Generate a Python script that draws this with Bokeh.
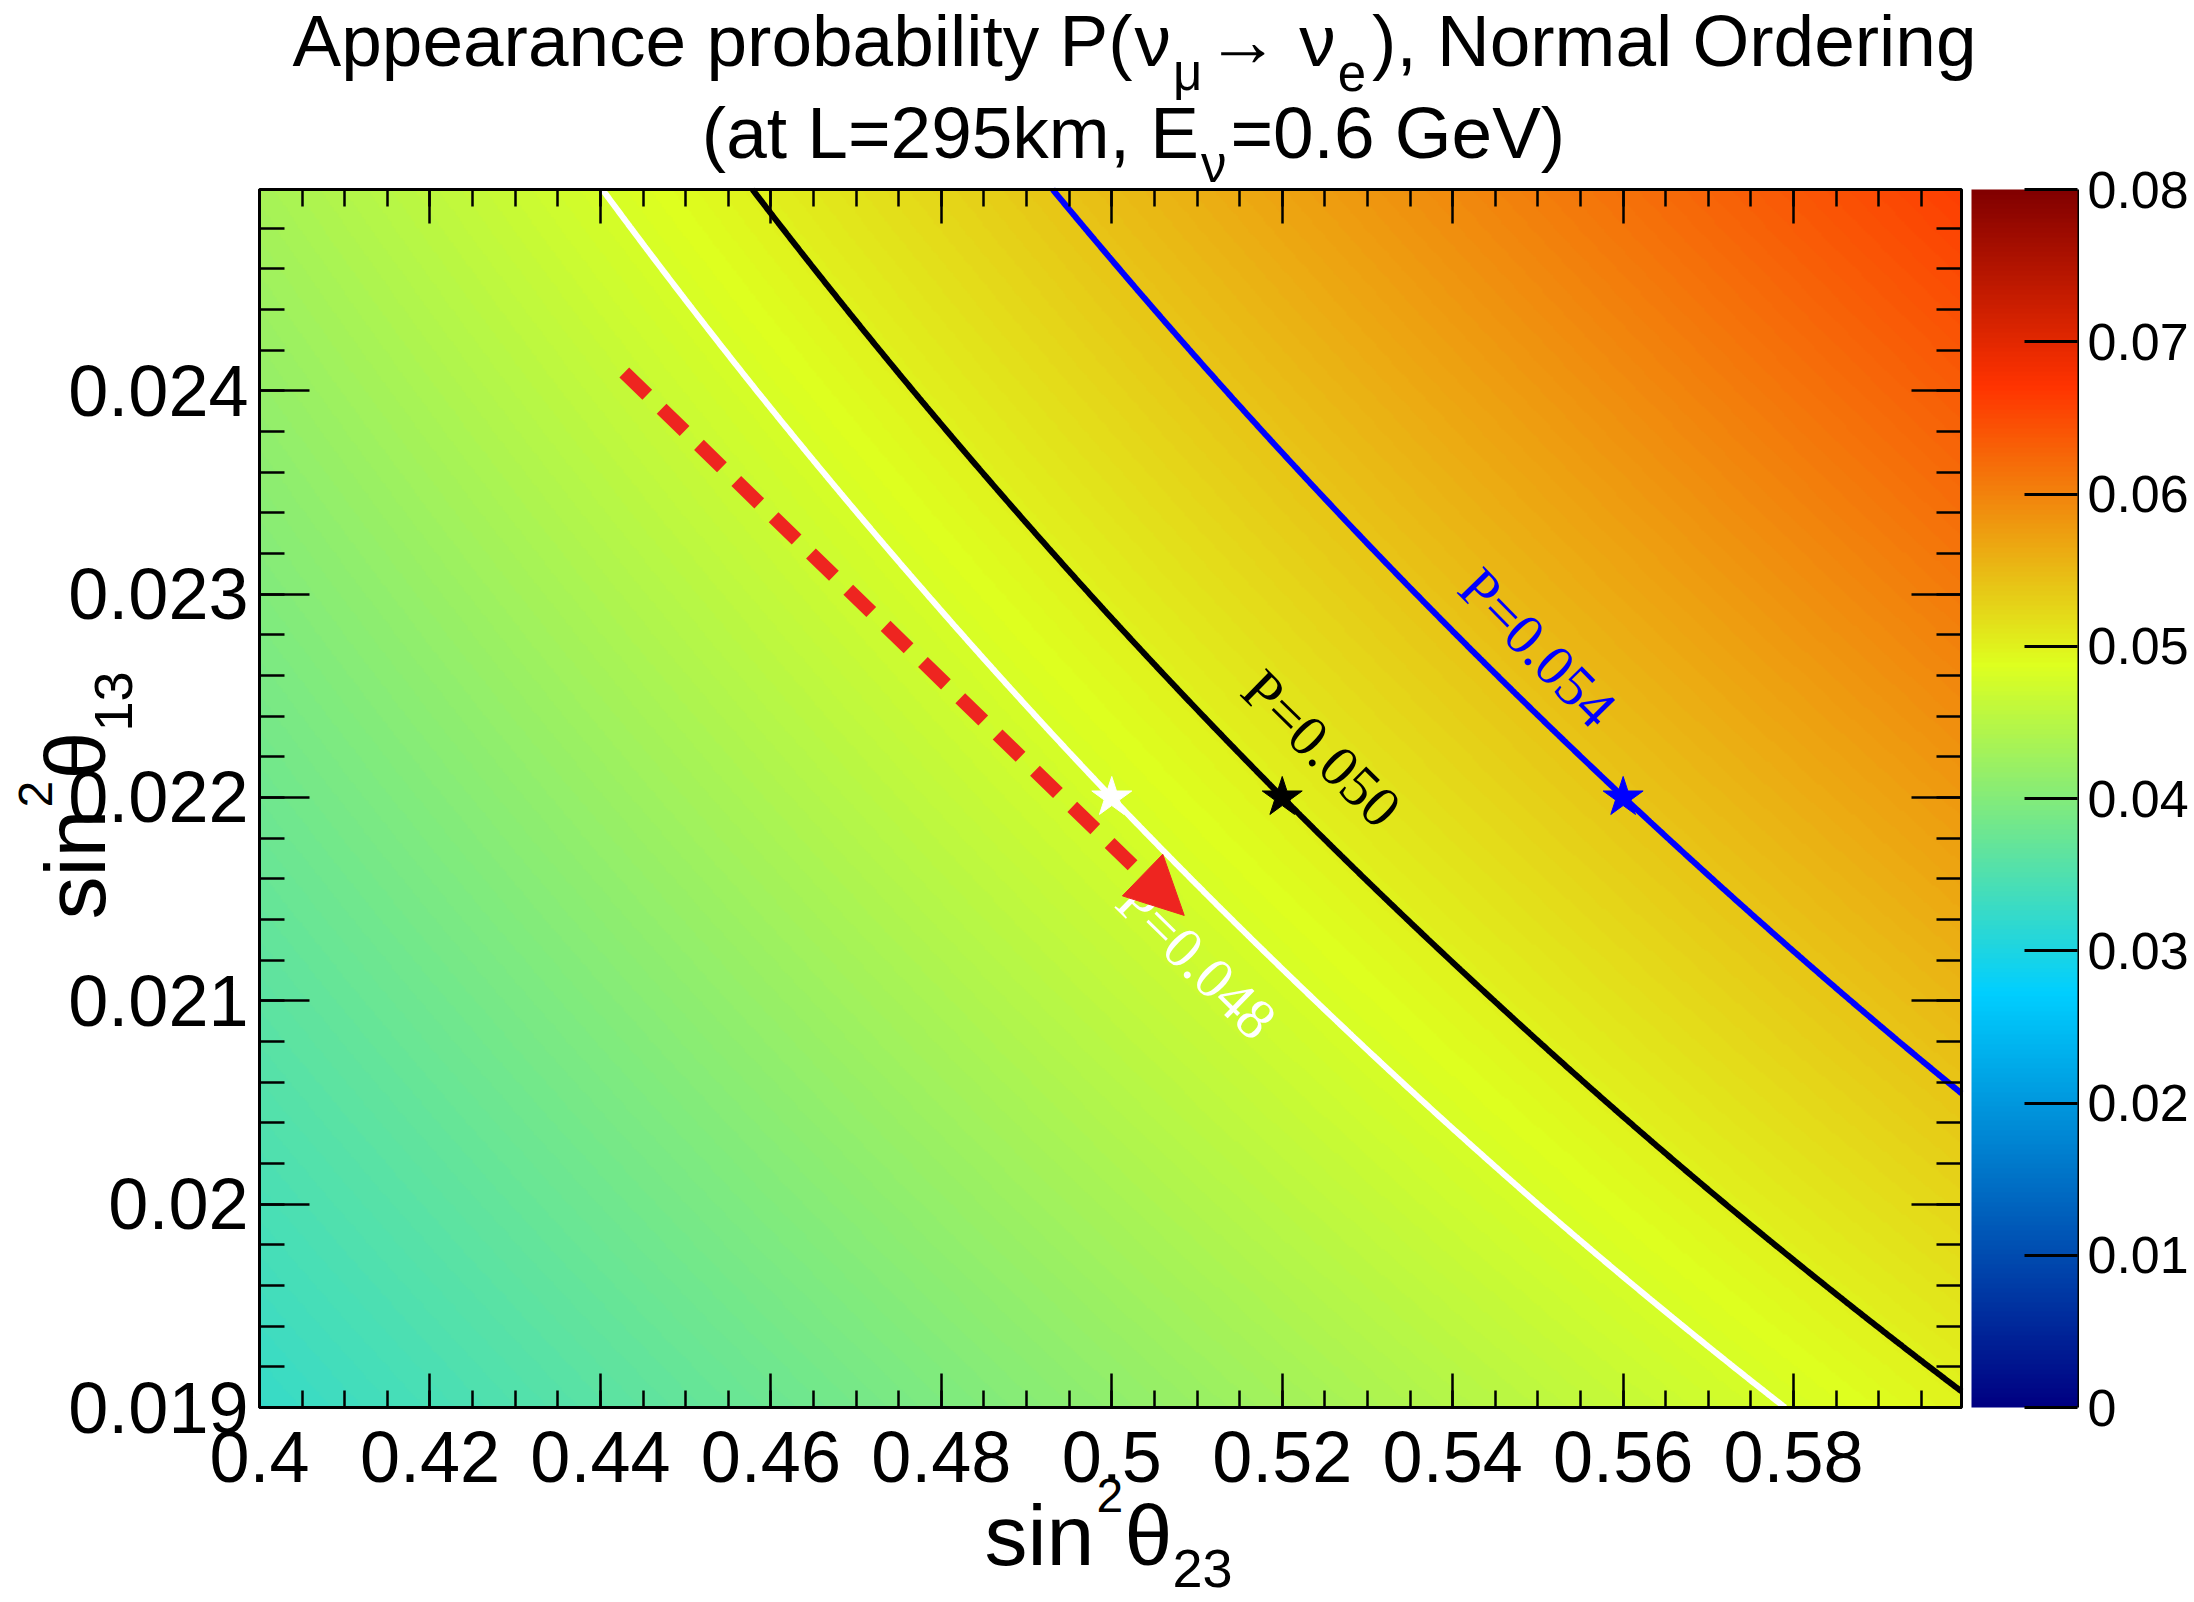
import numpy as np
from bokeh.plotting import figure
from bokeh.models import (LinearAxis, FixedTicker, CustomJSTickFormatter, LinearColorMapper,
                          ColorBar, Label, Arrow, NormalHead, Range1d)
from bokeh.embed import file_html
from bokeh.resources import INLINE

# ---------------- data ----------------
sin2_theta23_nodes = [0.40, 0.45, 0.50, 0.55, 0.60]
sin2_theta13_nodes = [0.019, 0.020, 0.021, 0.022, 0.023, 0.024, 0.025]
# appearance probability at the nodes, one list per sin2_theta13 row
prob_s13_0190 = [0.03254, 0.03686, 0.04118, 0.04550, 0.04981]
prob_s13_0200 = [0.03436, 0.03891, 0.04345, 0.04800, 0.05254]
prob_s13_0210 = [0.03618, 0.04095, 0.04572, 0.05049, 0.05527]
prob_s13_0220 = [0.03800, 0.04300, 0.04800, 0.05299, 0.05799]
prob_s13_0230 = [0.03981, 0.04504, 0.05027, 0.05549, 0.06072]
prob_s13_0240 = [0.04163, 0.04709, 0.05254, 0.05799, 0.06345]
prob_s13_0250 = [0.04345, 0.04913, 0.05481, 0.06049, 0.06618]

contour_levels = [0.048, 0.050, 0.054]
contour_colors = ["white", "black", "blue"]
contour_texts = ["P=0.048", "P=0.050", "P=0.054"]

star_x = [0.50, 0.52, 0.56]
star_y = [0.022, 0.022, 0.022]
star_colors = ["white", "black", "blue"]

arrow_start = (0.4428, 0.02409)
arrow_end = (0.5085, 0.02142)

x_ticks = [0.40, 0.42, 0.44, 0.46, 0.48, 0.50, 0.52, 0.54, 0.56, 0.58]
y_ticks = [0.019, 0.020, 0.021, 0.022, 0.023, 0.024]
cbar_ticks = [0, 0.01, 0.02, 0.03, 0.04, 0.05, 0.06, 0.07, 0.08]

# ---------------- palette (ROOT gradient stops) ----------------
stops = [0.00, 0.34, 0.61, 0.84, 1.00]
st_red = [0.00, 0.00, 0.87, 1.00, 0.51]
st_green = [0.00, 0.81, 1.00, 0.20, 0.00]
st_blue = [0.51, 1.00, 0.12, 0.00, 0.00]
tt = np.linspace(0, 1, 255)
rr = np.interp(tt, stops, st_red)
gg = np.interp(tt, stops, st_green)
bb = np.interp(tt, stops, st_blue)
palette = ["#%02x%02x%02x" % (int(round(255 * a)), int(round(255 * b)), int(round(255 * c)))
           for a, b, c in zip(rr, gg, bb)]
mapper = LinearColorMapper(palette=palette, low=0.0, high=0.08)

# ---------------- geometry ----------------
W, H = 2194, 1602
FL, FR, FT, FB = 259, 1961, 189, 1407          # plotting box in page pixels
XR = (0.4, 0.5997)
YR = (0.019, 0.02499)
KX = (FR - FL) / (XR[1] - XR[0])
KY = (FB - FT) / (YR[1] - YR[0])
X0, X1 = XR[0] - FL / KX, XR[0] + (W - FL) / KX
Y0, Y1 = YR[0] - (H - FB) / KY, YR[0] + FB / KY

def dx(px):
    return X0 + px / KX

def dy(py):
    return Y0 + (H - py) / KY

# ---------------- field on a fine grid ----------------
prob_rows = np.array([prob_s13_0190, prob_s13_0200, prob_s13_0210, prob_s13_0220,
                      prob_s13_0230, prob_s13_0240, prob_s13_0250])
xf = np.linspace(XR[0], XR[1], 800)
yf = np.linspace(YR[0], YR[1], 600)
tmp = np.array([np.interp(xf, sin2_theta23_nodes, row) for row in prob_rows])
Z = np.array([np.interp(yf, sin2_theta13_nodes, tmp[:, j]) for j in range(len(xf))]).T

# ---------------- figure (frame = whole canvas) ----------------
p = figure(width=W, height=H, x_range=Range1d(X0, X1), y_range=Range1d(Y0, Y1),
           output_backend="svg", toolbar_location=None, min_border=0,
           x_axis_location=None, y_axis_location=None)
p.title.visible = False
p.grid.visible = False
p.background_fill_color = "white"
p.border_fill_color = "white"
p.outline_line_color = None

fmt = CustomJSTickFormatter(code="return tick.toString()")
blank = CustomJSTickFormatter(code="return ''")
FONT = "Liberation Sans"

x_minor = [round(0.4 + i * 0.005, 4) for i in range(40)]
y_minor = [round(0.019 + i * 0.0002, 5) for i in range(30)]

def make_axis(side, loc, ticks, minors, tin, show_labels, standoff):
    ax = LinearAxis(fixed_location=loc)
    ax.ticker = FixedTicker(ticks=ticks, minor_ticks=minors)
    ax.formatter = fmt if show_labels else blank
    ax.axis_line_color = None
    ax.major_tick_in = tin
    ax.major_tick_out = 0
    ax.minor_tick_in = tin // 2
    ax.minor_tick_out = 0
    ax.major_tick_line_color = "black"
    ax.major_tick_line_width = 2.5
    ax.minor_tick_line_color = "black"
    ax.minor_tick_line_width = 2.5
    ax.major_label_standoff = standoff
    ax.major_label_text_font = FONT
    ax.major_label_text_color = "black"
    ax.major_label_text_font_size = "72px"
    p.add_layout(ax, side)

# heat map
p.image(image=[Z], x=XR[0], y=YR[0], dw=XR[1] - XR[0], dh=YR[1] - YR[0], color_mapper=mapper)

# contours
p.contour(xf, yf, Z, levels=contour_levels, line_color=contour_colors, line_width=6)

# plotting box outline
p.quad(left=[XR[0]], right=[XR[1]], bottom=[YR[0]], top=[YR[1]], fill_color=None,
       line_color="black", line_width=3)

# axes (ticks inside, on all four sides)
make_axis("below", YR[0], x_ticks, x_minor, 34, True, 24)
make_axis("left", XR[0], y_ticks, y_minor, 50, True, 11)
make_axis("above", YR[1], x_ticks, x_minor, 34, False, 0)
make_axis("right", XR[1], y_ticks, y_minor, 50, False, 0)

# stars
p.scatter(x=star_x, y=star_y, marker="star", size=42, color=star_colors)

# contour labels
label_pos = [(1196, 960, -0.775), (1321, 748, -0.777), (1537, 647, -0.795)]
for (px, py, ang), txt, col in zip(label_pos, contour_texts, contour_colors):
    p.add_layout(Label(x=dx(px), y=dy(py), text=txt, text_font="Liberation Serif",
                       text_font_size="58px", text_color=col, angle=ang,
                       text_align="center", text_baseline="middle"))

# arrow
RED = "#ee2520"
p.add_layout(Arrow(end=NormalHead(size=58, fill_color=RED, line_color=RED, line_width=1),
                   x_start=arrow_start[0], y_start=arrow_start[1],
                   x_end=arrow_end[0], y_end=arrow_end[1],
                   line_color=RED, line_width=14, line_dash="32 20"))

# colour bar
cb = ColorBar(color_mapper=mapper, location=(1971, H - FB), width=106, height=FB - FT,
              padding=0, margin=0, ticker=FixedTicker(ticks=cbar_ticks), formatter=fmt,
              major_label_text_font=FONT, major_label_text_font_size="52px",
              major_label_text_color="black",
              label_standoff=10, major_tick_in=53, major_tick_out=0,
              major_tick_line_color="black", major_tick_line_width=3,
              minor_tick_line_color=None, bar_line_color=None, border_line_color=None,
              background_fill_alpha=0)
p.add_layout(cb, "center")
p.segment(x0=[dx(2077)], y0=[YR[0]], x1=[dx(2077)], y1=[YR[1]], line_color="black", line_width=3)

# ---------------- texts (screen units; frame = whole canvas) ----------------
CW = {' ': 278, '(': 333, ')': 333, ',': 278, '.': 278, '=': 584, 'A': 667, 'E': 667, 'G': 778,
      'L': 556, 'N': 722, 'O': 778, 'P': 667, 'V': 667, 'a': 556, 'b': 556, 'c': 500, 'd': 556,
      'e': 556, 'g': 556, 'i': 222, 'k': 500, 'l': 222, 'm': 833, 'n': 556, 'o': 556, 'p': 556,
      'r': 333, 's': 500, 't': 278, 'y': 500, 'ν': 500, 'μ': 576, '→': 1000, 'θ': 556}
BASE_SHIFT = 0.39   # measured offset of the label anchor from the alphabetic baseline (em)

def tw(s, size):
    return sum(CW.get(ch, 556) for ch in s) * size / 1000.0

def label(px, py, text, size, angle=0.0, font=FONT, color="black"):
    if angle == 0.0:
        py = py - BASE_SHIFT * size
    else:
        px = px - BASE_SHIFT * size
    p.add_layout(Label(x=px, y=H - py, x_units="screen", y_units="screen", text=text,
                       text_font=font, text_font_size=f"{size}px", text_color=color, angle=angle,
                       text_align="left", text_baseline="alphabetic"))

def line_of(pieces, center, base):
    total = sum(tw(t, s) + g for t, s, d, g in pieces)
    x = center - total / 2
    for t, s, d, g in pieces:
        label(x, base + d, t, s)
        x += tw(t, s) + g

TF, SF = 73, 51
line_of([("Appearance probability P(", TF, 0, 2), ("ν", TF, 0, 2), ("μ", SF, 24, 4),
         ("→", TF, 0, 20), ("ν", TF, 0, 2), ("e", SF, 24, 6),
         ("), Normal Ordering", TF, 0, 0)], 1134, 68)
line_of([("(at L=295km, E", TF, 0, 2), ("ν", SF, 24, 4), ("=0.6 GeV)", TF, 0, 0)], 1133, 160)

# x axis title
label(984, 1568, "sin", 86)
label(1096, 1514, "2", 48)
label(1124, 1568, "θ", 86)
label(1172, 1589, "23", 54)

# y axis title (rotated)
A = np.pi / 2
label(108, 919, "sin", 86, angle=A)
label(54, 807, "2", 48, angle=A)
label(108, 779, "θ", 86, angle=A)
label(134, 731, "13", 54, angle=A)

open("out.html", "w").write(file_html(p, INLINE))
